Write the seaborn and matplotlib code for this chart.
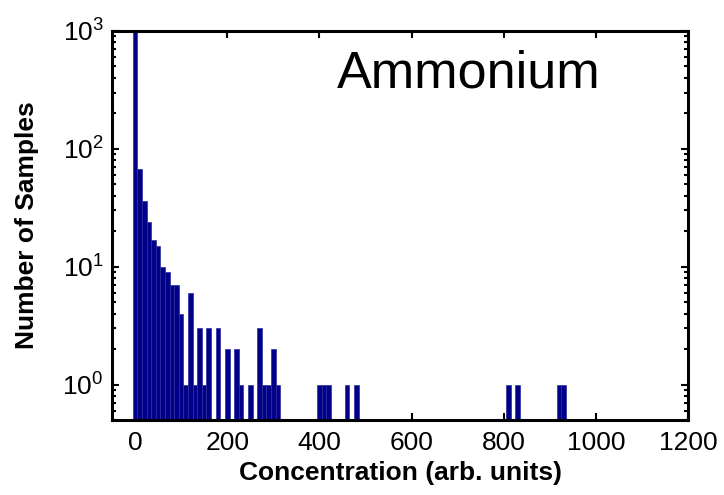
import numpy as np
import pandas as pd
import matplotlib
matplotlib.use('Agg')
import matplotlib.pyplot as plt
import seaborn as sns
from matplotlib.ticker import LogLocator, NullFormatter

# histogram bins (centre of each 10-unit bin) and their sample counts
bin_centers = [0, 10, 20, 30, 40, 50, 60, 70, 80, 90, 100, 110, 120, 130, 140,
               150, 160, 180, 200, 220, 230, 250, 270, 280, 290, 300, 310,
               400, 410, 420, 460, 480, 810, 830, 920, 930]
sample_counts = [1200, 67, 36, 24, 17, 15, 10, 9, 7, 7, 4, 1, 6, 1, 3,
                 1, 3, 3, 2, 2, 1, 1, 3, 1, 1, 2, 1,
                 1, 1, 1, 1, 1, 1, 1, 1, 1]
x_ticks = [0, 200, 400, 600, 800, 1000, 1200]
title_text = 'Ammonium'

sns.set_style('ticks')
plt.rcParams['font.family'] = ['Liberation Sans', 'DejaVu Sans']
plt.rcParams['mathtext.default'] = 'regular'
plt.rcParams['text.color'] = 'black'
plt.rcParams['axes.labelcolor'] = 'black'

df = pd.DataFrame({'conc': bin_centers, 'count': sample_counts})
bin_width = 10
edges = [float(e) for e in np.arange(-bin_width / 2, 1000, bin_width)]

fig = plt.figure(figsize=(7.24, 4.95), dpi=100)
ax = fig.add_axes([0.1547, 0.1515, 0.7956, 0.7859])

sns.histplot(data=df, x='conc', weights='count', bins=edges, ax=ax,
             color='#000088', edgecolor='#2c2c9c', linewidth=0.5, alpha=1)

ax.set_yscale('log')
ax.set_ylim(0.5, 1000)
ax.set_xlim(-50, 1200)
ax.set_xticks(x_ticks)
ax.yaxis.set_major_locator(LogLocator(base=10, numticks=10))
ax.yaxis.set_minor_locator(LogLocator(base=10, subs=np.arange(2, 10), numticks=10))
ax.yaxis.set_minor_formatter(NullFormatter())

for s in ax.spines.values():
    s.set_linewidth(2.2)
    s.set_color('black')
ax.tick_params(which='both', direction='in', top=True, right=True,
               colors='black', width=1.5)
ax.tick_params(which='major', length=5, labelsize=19, pad=8)
ax.tick_params(which='minor', length=3)
ax.tick_params(axis='y', pad=6)

ax.set_xlabel('Concentration (arb. units)', fontsize=19, fontweight='bold', labelpad=4)
ax.set_ylabel('Number of Samples', fontsize=19, fontweight='bold', labelpad=17)
ax.text(0.39, 0.855, title_text, transform=ax.transAxes, fontsize=37.5,
        ha='left', va='baseline', color='black')

fig.savefig('out.png', dpi=100)
